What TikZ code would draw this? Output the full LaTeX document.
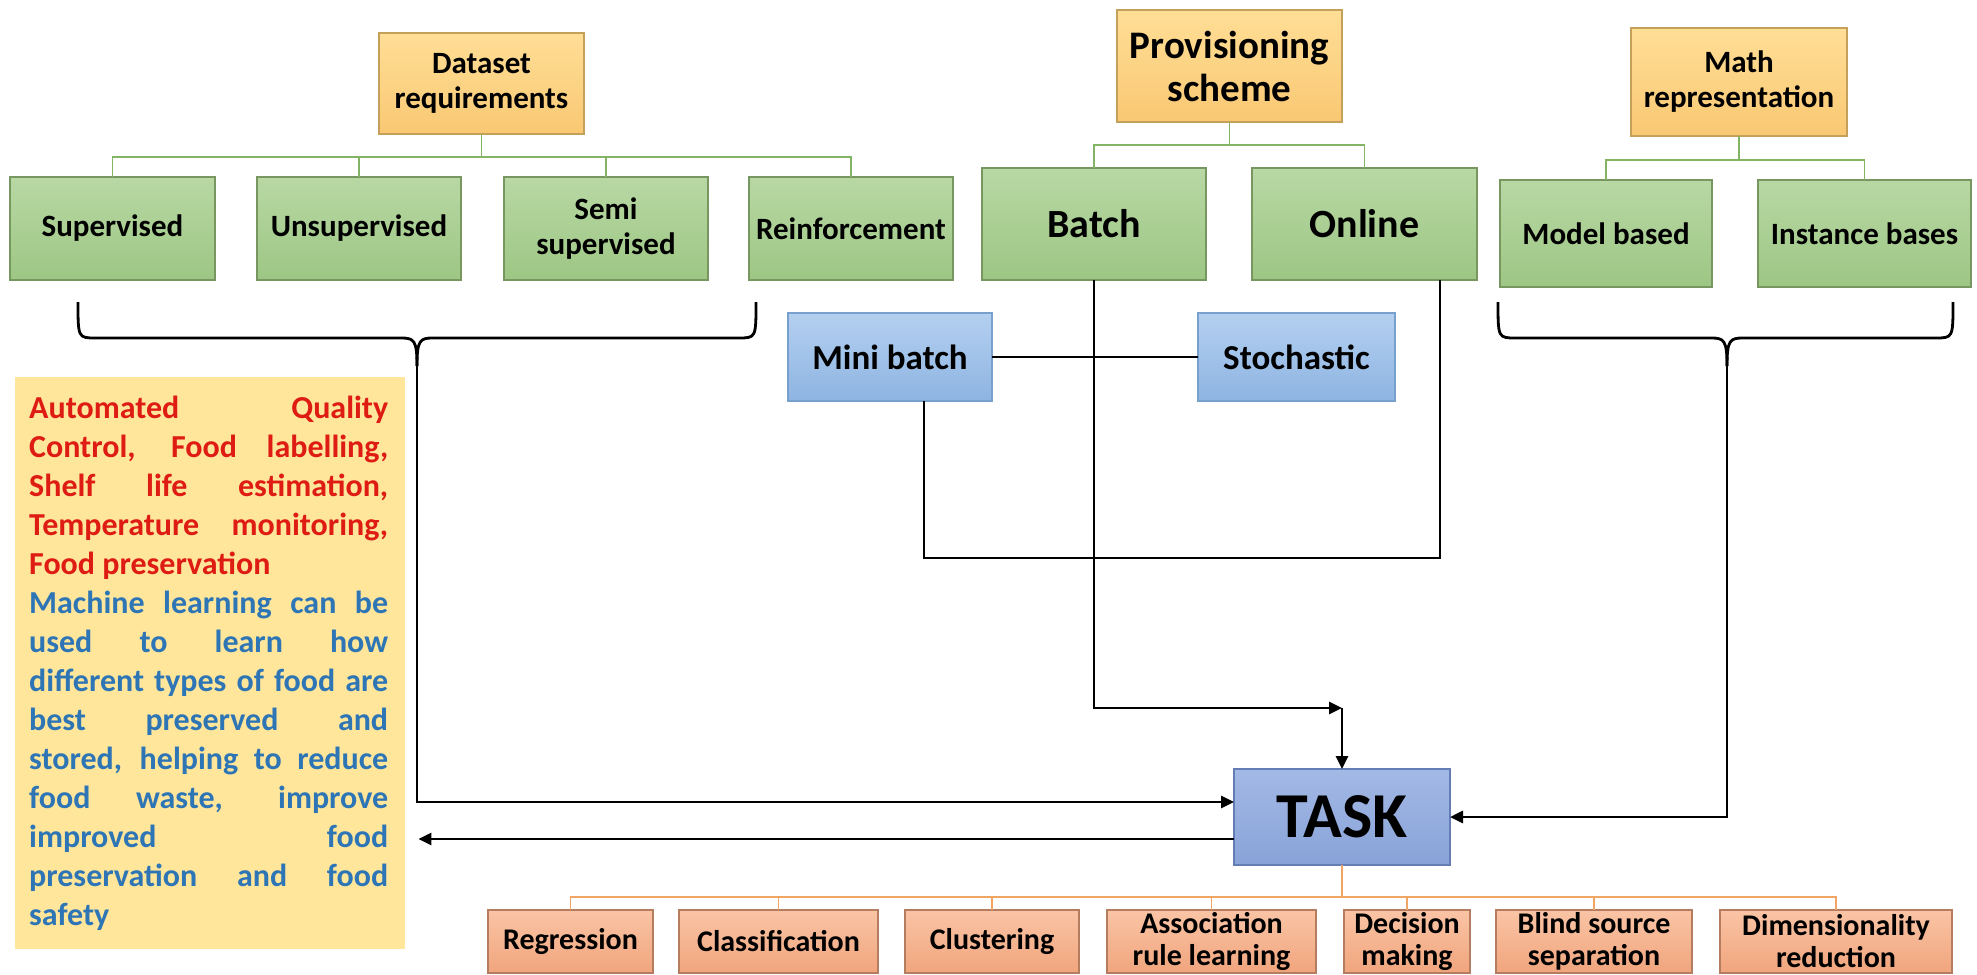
\documentclass[tikz,border=0pt]{standalone}
\usepackage{fontspec}
\setmainfont{Carlito}
\usetikzlibrary{arrows.meta,calc}
\definecolor{gtop}{RGB}{184,216,164}
\definecolor{gbot}{RGB}{157,198,132}
\definecolor{gborder}{RGB}{120,150,95}
\definecolor{otop}{RGB}{255,222,150}
\definecolor{obot}{RGB}{249,200,115}
\definecolor{oborder}{RGB}{196,160,90}
\definecolor{btop}{RGB}{180,208,240}
\definecolor{bbot}{RGB}{142,180,226}
\definecolor{bborder}{RGB}{120,160,205}
\definecolor{ttop}{RGB}{163,185,230}
\definecolor{tbot}{RGB}{137,163,216}
\definecolor{tborder}{RGB}{100,125,180}
\definecolor{saltop}{RGB}{250,196,165}
\definecolor{salbot}{RGB}{240,165,125}
\definecolor{salborder}{RGB}{180,125,95}
\definecolor{glinec}{RGB}{130,180,100}
\definecolor{olinec}{RGB}{240,165,100}
\definecolor{yel}{RGB}{255,230,155}
\definecolor{tred}{RGB}{222,28,20}
\definecolor{tblue}{RGB}{46,117,182}
\newcommand{\jl}[2]{\makebox[359pt][s]{\color{#1}#2}}
\begin{document}
\begin{tikzpicture}[x=1pt,y=-1pt,
  box/.style={draw, line width=1.3pt, inner sep=0pt, outer sep=0pt, align=center,
    font=\bfseries\fontsize{31}{35}\selectfont},
  gbox/.style={box, draw=gborder, top color=gtop, bottom color=gbot},
  obox/.style={box, draw=oborder, top color=otop, bottom color=obot},
  bbox/.style={box, draw=bborder, top color=btop, bottom color=bbot},
  tbox/.style={box, draw=tborder, top color=ttop, bottom color=tbot},
  sbox/.style={box, draw=salborder, top color=saltop, bottom color=salbot,
    minimum height=63, font=\bfseries\fontsize{30}{32}\selectfont},
  gline/.style={draw=glinec, line width=1.6pt},
  oline/.style={draw=olinec, line width=1.6pt},
  conn/.style={draw=black, line width=2.8pt},
  arr/.style={conn, -{Triangle[length=13pt,width=12pt]}},
  brace/.style={draw=black, line width=2.8pt, line join=round},
]
\useasboundingbox (0,0) rectangle (1977,974);

% top category boxes
\node[obox, minimum width=205, minimum height=101] (dreq) at (481.5,83.5) {Dataset\\requirements};
\node[obox, minimum width=225, minimum height=112, font=\bfseries\fontsize{39}{43}\selectfont] (prov) at (1229.5,66) {Provisioning\\scheme};
\node[obox, minimum width=216, minimum height=108] (math) at (1739,82) {Math\\representation};

% green boxes
\node[gbox, minimum width=205, minimum height=103] (sup) at (112.5,228.5) {Supervised};
\node[gbox, minimum width=204, minimum height=103] (unsup) at (359,228.5) {Unsupervised};
\node[gbox, minimum width=204, minimum height=103] (semi) at (606,228.5) {Semi\\supervised};
\node[gbox, minimum width=204, minimum height=103] (reinf) at (851,228.5) {Reinforcement};
\node[gbox, minimum width=224, minimum height=112, font=\bfseries\fontsize{40}{44}\selectfont] (batch) at (1094,224) {Batch};
\node[gbox, minimum width=225, minimum height=112, font=\bfseries\fontsize{40}{44}\selectfont] (online) at (1364.5,224) {Online};
\node[gbox, minimum width=212, minimum height=107] (model) at (1606,233.5) {Model based};
\node[gbox, minimum width=213, minimum height=107] (inst) at (1864.5,233.5) {Instance bases};

% blue boxes
\node[bbox, minimum width=204, minimum height=88, font=\bfseries\fontsize{35}{40}\selectfont] (mini) at (890,357) {Mini batch};
\node[bbox, minimum width=197, minimum height=88, font=\bfseries\fontsize{35}{40}\selectfont] (stoch) at (1296.5,357) {Stochastic};

% task
\node[tbox, minimum width=216, minimum height=96, font=\bfseries\fontsize{64}{70}\selectfont] (task) at (1342,817) {TASK};

% bottom boxes
\node[sbox, minimum width=165] (regr) at (570.5,941.5) {Regression};
\node[sbox, minimum width=199] (clas) at (778.5,941.5) {Classification};
\node[sbox, minimum width=174] (clus) at (992,941.5) {Clustering};
\node[sbox, minimum width=209] (asso) at (1211.5,941.5) {Association\\rule learning};
\node[sbox, minimum width=126] (deci) at (1407,941.5) {Decision\\making};
\node[sbox, minimum width=196] (blind) at (1594,941.5) {Blind source\\separation};
\node[sbox, minimum width=232] (dime) at (1836,941.5) {Dimensionality\\reduction};

% text box
\node[fill=yel, minimum width=390, minimum height=572, inner sep=0pt, anchor=north west] (txtbox) at (15,377) {};
\node[anchor=north west, inner sep=0pt, align=left, font=\bfseries\fontsize{32}{39}\selectfont] (txt) at (29,396) {%
\jl{tred}{Automated Quality}\\
\jl{tred}{Control, Food labelling,}\\
\jl{tred}{Shelf life estimation,}\\
\jl{tred}{Temperature monitoring,}\\
\textcolor{tred}{Food preservation}\\
\jl{tblue}{Machine learning can be}\\
\jl{tblue}{used to learn how}\\
\jl{tblue}{different types of food are}\\
\jl{tblue}{best preserved and}\\
\jl{tblue}{stored, helping to reduce}\\
\jl{tblue}{food waste, improve}\\
\jl{tblue}{improved food}\\
\jl{tblue}{preservation and food}\\
\textcolor{tblue}{safety}};

% green trees
\draw[gline] (dreq.south) -- (dreq.south |- 0,157);
\draw[gline] (sup.north) -- (sup.north |- 0,157) -- (reinf.north |- 0,157) -- (reinf.north);
\draw[gline] (unsup.north) -- (unsup.north |- 0,157);
\draw[gline] (semi.north) -- (semi.north |- 0,157);
\draw[gline] (prov.south) -- (prov.south |- 0,145);
\draw[gline] (batch.north) -- (batch.north |- 0,145) -- (online.north |- 0,145) -- (online.north);
\draw[gline] (math.south) -- (math.south |- 0,160);
\draw[gline] (model.north) -- (model.north |- 0,160) -- (inst.north |- 0,160) -- (inst.north);

% orange tree
\draw[oline] (task.south) -- (task.south |- 0,897);
\draw[oline] (regr.north) -- (regr.north |- 0,897) -- (dime.north |- 0,897) -- (dime.north);
\foreach \n in {clas,clus,asso,deci,blind}
  \draw[oline] (\n.north) -- (\n.north |- 0,897);

% braces
\coordinate (lbr) at (417,350);
\coordinate (rbr) at (1727,350);
\draw[brace] (78,302) .. controls (78,338) and (78,338) .. (96,338) -- (401,338)
  .. controls (414,338) and (417,340) .. (417,366);
\draw[brace] (756,302) .. controls (756,338) and (756,338) .. (738,338) -- (433,338)
  .. controls (420,338) and (417,340) .. (417,366);
\draw[brace] (1498,302) .. controls (1498,338) and (1498,338) .. (1516,338) -- (1711,338)
  .. controls (1724,338) and (1727,340) .. (1727,366);
\draw[brace] (1953,302) .. controls (1953,338) and (1953,338) .. (1935,338) -- (1743,338)
  .. controls (1730,338) and (1727,340) .. (1727,366);

% connectors to task
\draw[arr] (lbr) |- (task.west |- 0,802);
\draw[arr] (rbr) |- (task.east);
\coordinate (bc) at (task.north |- 0,708);
\draw[arr] (batch.south) |- (bc);
\draw[arr] (bc) -- (task.north);
\draw[arr] (task.west |- 0,839) -- ($(txtbox.east |- 0,839)+(13,0)$);

% mini batch / stochastic
\draw[conn] (mini.east) -- (stoch.west);
\draw[conn] (mini.south -| 924,0) -- (924,558) -- (1440,558) -- (online.south -| 1440,0);
\end{tikzpicture}
\end{document}
